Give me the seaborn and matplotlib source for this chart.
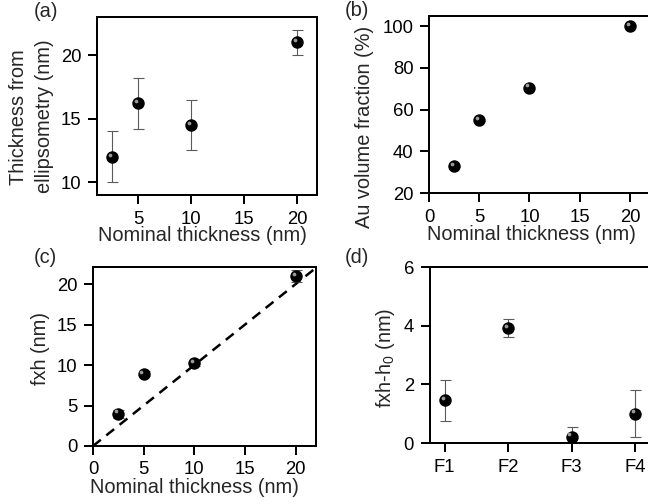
import matplotlib
matplotlib.use("Agg")
import matplotlib.pyplot as plt
import matplotlib.transforms as mtransforms
import seaborn as sns
import pandas as pd

# ---------------- data ----------------
nominal = [2.5, 5, 10, 20]
ellips_thick = [12.0, 16.2, 14.5, 21.0]
ellips_err = [2.0, 2.0, 2.0, 1.0]

au_fraction = [33, 55, 70.5, 100]

fxh = [4.0, 8.9, 10.2, 21.0]
fxh_err = [0.5, 0.3, 0.3, 0.7]
guide_x = [0, 22]
guide_y = [0, 22]

films = ["F1", "F2", "F3", "F4"]
fxh_h0 = [1.45, 3.92, 0.22, 1.0]
fxh_h0_err = [0.7, 0.32, 0.32, 0.8]

# ---------------- style ----------------
sns.set_theme(style="ticks")
plt.rcParams["font.family"] = ["Liberation Sans", "DejaVu Sans"]
plt.rcParams["mathtext.fontset"] = "custom"
plt.rcParams["mathtext.rm"] = "Liberation Sans"
plt.rcParams["mathtext.it"] = "Liberation Sans"

W, H = 648, 504
fig = plt.figure(figsize=(W / 72, H / 72), dpi=72)


def px_axes(left, top, right, bottom):
    return fig.add_axes([left / W, 1 - bottom / H, (right - left) / W, (bottom - top) / H])


TICK_FS = 18.5
LAB_FS = 20


def style_ax(ax, right_spine=True):
    for s in ax.spines.values():
        s.set_linewidth(2)
        s.set_color("black")
    ax.spines["right"].set_visible(right_spine)
    ax.tick_params(axis="both", direction="out", length=9, width=2,
                   labelsize=TICK_FS, colors="black", pad=6.5)


def spheres(ax, df, x, y):
    sns.scatterplot(data=df, x=x, y=y, ax=ax, s=155, color="black",
                    edgecolor="black", linewidth=0, zorder=5, legend=False)
    off = mtransforms.offset_copy(ax.transData, fig=fig, x=-2.2, y=2.2, units="points")
    ax.scatter(df[x], df[y], s=14, color="#9a9a9a", linewidths=0, zorder=6,
               transform=off)


def errbars(ax, xs, ys, errs):
    ax.errorbar(xs, ys, yerr=errs, fmt="none", ecolor="#5a5a5a", elinewidth=1.1,
                capsize=5.5, capthick=1.1, zorder=4)


# ---------------- (a) ----------------
axa = px_axes(97, 17, 317, 195)
dfa = pd.DataFrame({"x": nominal, "y": ellips_thick})
errbars(axa, nominal, ellips_thick, ellips_err)
spheres(axa, dfa, "x", "y")
axa.set_xlim(1.1, 21.9)
axa.set_ylim(9.0, 23.0)
axa.set_xticks([5, 10, 15, 20])
axa.set_yticks([10, 15, 20])
style_ax(axa)
axa.set_xlabel("Nominal thickness (nm)", fontsize=LAB_FS)
axa.set_ylabel("Thickness from\nellipsometry (nm)", fontsize=LAB_FS, linespacing=1.45)
axa.xaxis.set_label_coords(0.477, -0.176)
axa.yaxis.set_label_coords(-0.197, 0.44)

# ---------------- (b) ----------------
axb = px_axes(429, 16, 649, 193)
dfb = pd.DataFrame({"x": nominal, "y": au_fraction})
spheres(axb, dfb, "x", "y")
axb.set_xlim(0, 21.9)
axb.set_ylim(20, 104.8)
axb.set_xticks([0, 5, 10, 15, 20])
axb.set_yticks([20, 40, 60, 80, 100])
style_ax(axb, right_spine=False)
axb.set_xlabel("Nominal thickness (nm)", fontsize=LAB_FS)
axb.set_ylabel("Au volume fraction (%)", fontsize=LAB_FS)
axb.xaxis.set_label_coords(0.464, -0.18)
axb.yaxis.set_label_coords(-0.252, 0.375)

# ---------------- (c) ----------------
axc = px_axes(93, 267, 316, 446)
dfc = pd.DataFrame({"x": nominal, "y": fxh})
gdf = pd.DataFrame({"x": guide_x, "y": guide_y})
sns.lineplot(data=gdf, x="x", y="y", ax=axc, color="black", linewidth=2.5,
             dashes=False, zorder=3)
axc.lines[-1].set_dashes([4, 2.8])
errbars(axc, nominal, fxh, fxh_err)
spheres(axc, dfc, "x", "y")
axc.set_xlim(0, 22)
axc.set_ylim(0, 22.1)
axc.set_xticks([0, 5, 10, 15, 20])
axc.set_yticks([0, 5, 10, 15, 20])
style_ax(axc)
axc.set_xlabel("Nominal thickness (nm)", fontsize=LAB_FS)
axc.set_ylabel("fxh (nm)", fontsize=LAB_FS)
axc.xaxis.set_label_coords(0.457, -0.178)
axc.yaxis.set_label_coords(-0.195, 0.547)

# ---------------- (d) ----------------
axd = px_axes(429.5, 267, 649, 443)
dfd = pd.DataFrame({"x": films, "y": fxh_h0})
spheres(axd, dfd, "x", "y")
errbars(axd, films, fxh_h0, fxh_h0_err)
axd.set_xlim(-0.24, 3.22)
axd.set_ylim(0, 6)
axd.set_yticks([0, 2, 4, 6])
style_ax(axd, right_spine=False)
axd.set_xlabel("")
axd.set_ylabel(r"fxh-h$_\mathregular{0}$ (nm)", fontsize=LAB_FS)
axd.yaxis.set_label_coords(-0.15, 0.486)

# ---------------- panel letters ----------------
for lab, (x, y) in {"(a)": (34, 2), "(b)": (345, 1), "(c)": (34, 248), "(d)": (345, 248)}.items():
    fig.text(x / W, 1 - y / H, lab, fontsize=LAB_FS, ha="left", va="top")

fig.savefig("out.png", dpi=72)
